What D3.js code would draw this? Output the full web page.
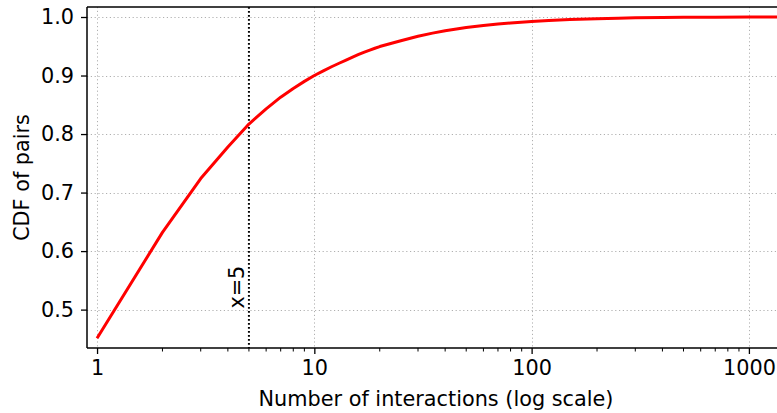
<!DOCTYPE html>
<html>
<head>
<meta charset="utf-8">
<script src="https://cdn.jsdelivr.net/npm/d3@7"></script>
<style>
  html, body { margin: 0; padding: 0; background: #fff; }
  svg { display: block; font-family: "DejaVu Sans", sans-serif; }
</style>
</head>
<body>
<svg id="chart" width="777" height="413"></svg>
<script>
// Number of interactions per pair (x) and cumulative share of pairs (y)
const interactions = [1, 2, 3, 4, 5, 6, 7, 8, 9, 10, 11, 12, 13, 14, 15, 16, 17, 18, 19, 20,
  25, 30, 35, 40, 50, 60, 70, 80, 100, 120, 150, 200, 250, 300, 400, 500, 700, 1000, 1500];
const cdfValues = [0.451, 0.632, 0.724, 0.778, 0.817, 0.843, 0.863, 0.878, 0.890, 0.900, 0.908, 0.915, 0.921, 0.9265, 0.9315, 0.936, 0.940, 0.9435, 0.9466, 0.9495,
  0.9595, 0.967, 0.9725, 0.9765, 0.982, 0.9855, 0.988, 0.9898, 0.9925, 0.9942, 0.9958, 0.9972, 0.998, 0.9986, 0.9991, 0.9994, 0.9997, 0.9999, 1.0];

const xTickValues = [1, 10, 100, 1000];
const xTickLabels = ["1", "10", "100", "1000"];
const yTickValues = [0.5, 0.6, 0.7, 0.8, 0.9, 1.0];
const yTickLabels = ["0.5", "0.6", "0.7", "0.8", "0.9", "1.0"];
const markerX = 5;
const markerLabel = "x=5";

const svg = d3.select("#chart");
const margin = { left: 87, top: 7, right: 785, bottom: 348 };
const fontSize = 20.8;

const x = d3.scaleLog().domain([0.899, 1466]).range([margin.left, margin.right]);
const y = d3.scaleLinear().domain([0.4344, 1.0171]).range([margin.bottom, margin.top]);

svg.append("defs").append("clipPath").attr("id", "plot-clip")
  .append("rect")
  .attr("x", margin.left).attr("y", margin.top)
  .attr("width", margin.right - margin.left).attr("height", margin.bottom - margin.top);

// grid
const grid = svg.append("g").attr("clip-path", "url(#plot-clip)")
  .attr("stroke", "#b0b0b0").attr("stroke-width", 1).attr("stroke-dasharray", "1.2,2.6");
grid.selectAll("line.gx").data(xTickValues).join("line")
  .attr("x1", d => Math.round(x(d)) + 0.5).attr("x2", d => Math.round(x(d)) + 0.5)
  .attr("y1", margin.top).attr("y2", margin.bottom);
grid.selectAll("line.gy").data(yTickValues).join("line")
  .attr("y1", d => Math.round(y(d)) + 0.5).attr("y2", d => Math.round(y(d)) + 0.5)
  .attr("x1", margin.left).attr("x2", margin.right);

// vertical reference line at x=5
svg.append("line")
  .attr("x1", x(markerX)).attr("x2", x(markerX))
  .attr("y1", margin.top).attr("y2", margin.bottom)
  .attr("stroke", "#000").attr("stroke-width", 2).attr("stroke-dasharray", "1.8,2.2");

svg.append("text")
  .attr("transform", `translate(${x(markerX) - 5},${y(0.5) - 1}) rotate(-90)`)
  .attr("font-size", fontSize).attr("fill", "#000")
  .attr("text-anchor", "start")
  .text(markerLabel);

// CDF curve
const line = d3.line().x((d, i) => x(interactions[i])).y(d => y(d));
svg.append("path")
  .attr("clip-path", "url(#plot-clip)")
  .attr("d", line(cdfValues))
  .attr("fill", "none").attr("stroke", "#ff0000").attr("stroke-width", 3)
  .attr("stroke-linejoin", "round");

// axes
const xAxis = d3.axisBottom(x)
  .tickValues(xTickValues)
  .tickFormat((d, i) => xTickLabels[i])
  .tickSize(6).tickPadding(6);
const gx = svg.append("g").attr("transform", `translate(0,${margin.bottom})`).call(xAxis);

// minor ticks on the log axis
const minor = [];
for (let p = 0; p <= 3; p++) for (let k = 2; k <= 9; k++) {
  const v = k * Math.pow(10, p);
  if (v < 1466) minor.push(v);
}
gx.selectAll("line.minor").data(minor).join("line").attr("class", "minor")
  .attr("x1", d => x(d)).attr("x2", d => x(d)).attr("y1", 0).attr("y2", 3.5)
  .attr("stroke", "#000").attr("stroke-width", 1);

const yAxis = d3.axisLeft(y)
  .tickValues(yTickValues)
  .tickFormat((d, i) => yTickLabels[i])
  .tickSize(6).tickPadding(7);
const gy = svg.append("g").attr("transform", `translate(${margin.left},0)`).call(yAxis);

[gx, gy].forEach(g => {
  g.select(".domain").remove();
  g.selectAll(".tick line").attr("stroke", "#000").attr("stroke-width", 1.3);
  g.selectAll(".tick text").attr("font-size", fontSize).attr("fill", "#000")
    .attr("font-family", "DejaVu Sans, sans-serif");
});

// spines
svg.append("line").attr("x1", margin.left).attr("x2", margin.left)
  .attr("y1", margin.top).attr("y2", margin.bottom)
  .attr("stroke", "#000").attr("stroke-width", 1.5);
svg.append("line").attr("x1", margin.left).attr("x2", margin.right)
  .attr("y1", margin.bottom).attr("y2", margin.bottom)
  .attr("stroke", "#000").attr("stroke-width", 1.5);
svg.append("line").attr("x1", margin.left).attr("x2", margin.right)
  .attr("y1", margin.top).attr("y2", margin.top)
  .attr("stroke", "#000").attr("stroke-width", 1.5);

// axis titles
svg.append("text")
  .attr("x", (margin.left + margin.right) / 2).attr("y", 406)
  .attr("text-anchor", "middle").attr("font-size", fontSize).attr("fill", "#000")
  .text("Number of interactions (log scale)");
svg.append("text")
  .attr("transform", `translate(29,${(margin.top + margin.bottom) / 2}) rotate(-90)`)
  .attr("text-anchor", "middle").attr("font-size", fontSize).attr("fill", "#000")
  .text("CDF of pairs");
</script>
</body>
</html>
